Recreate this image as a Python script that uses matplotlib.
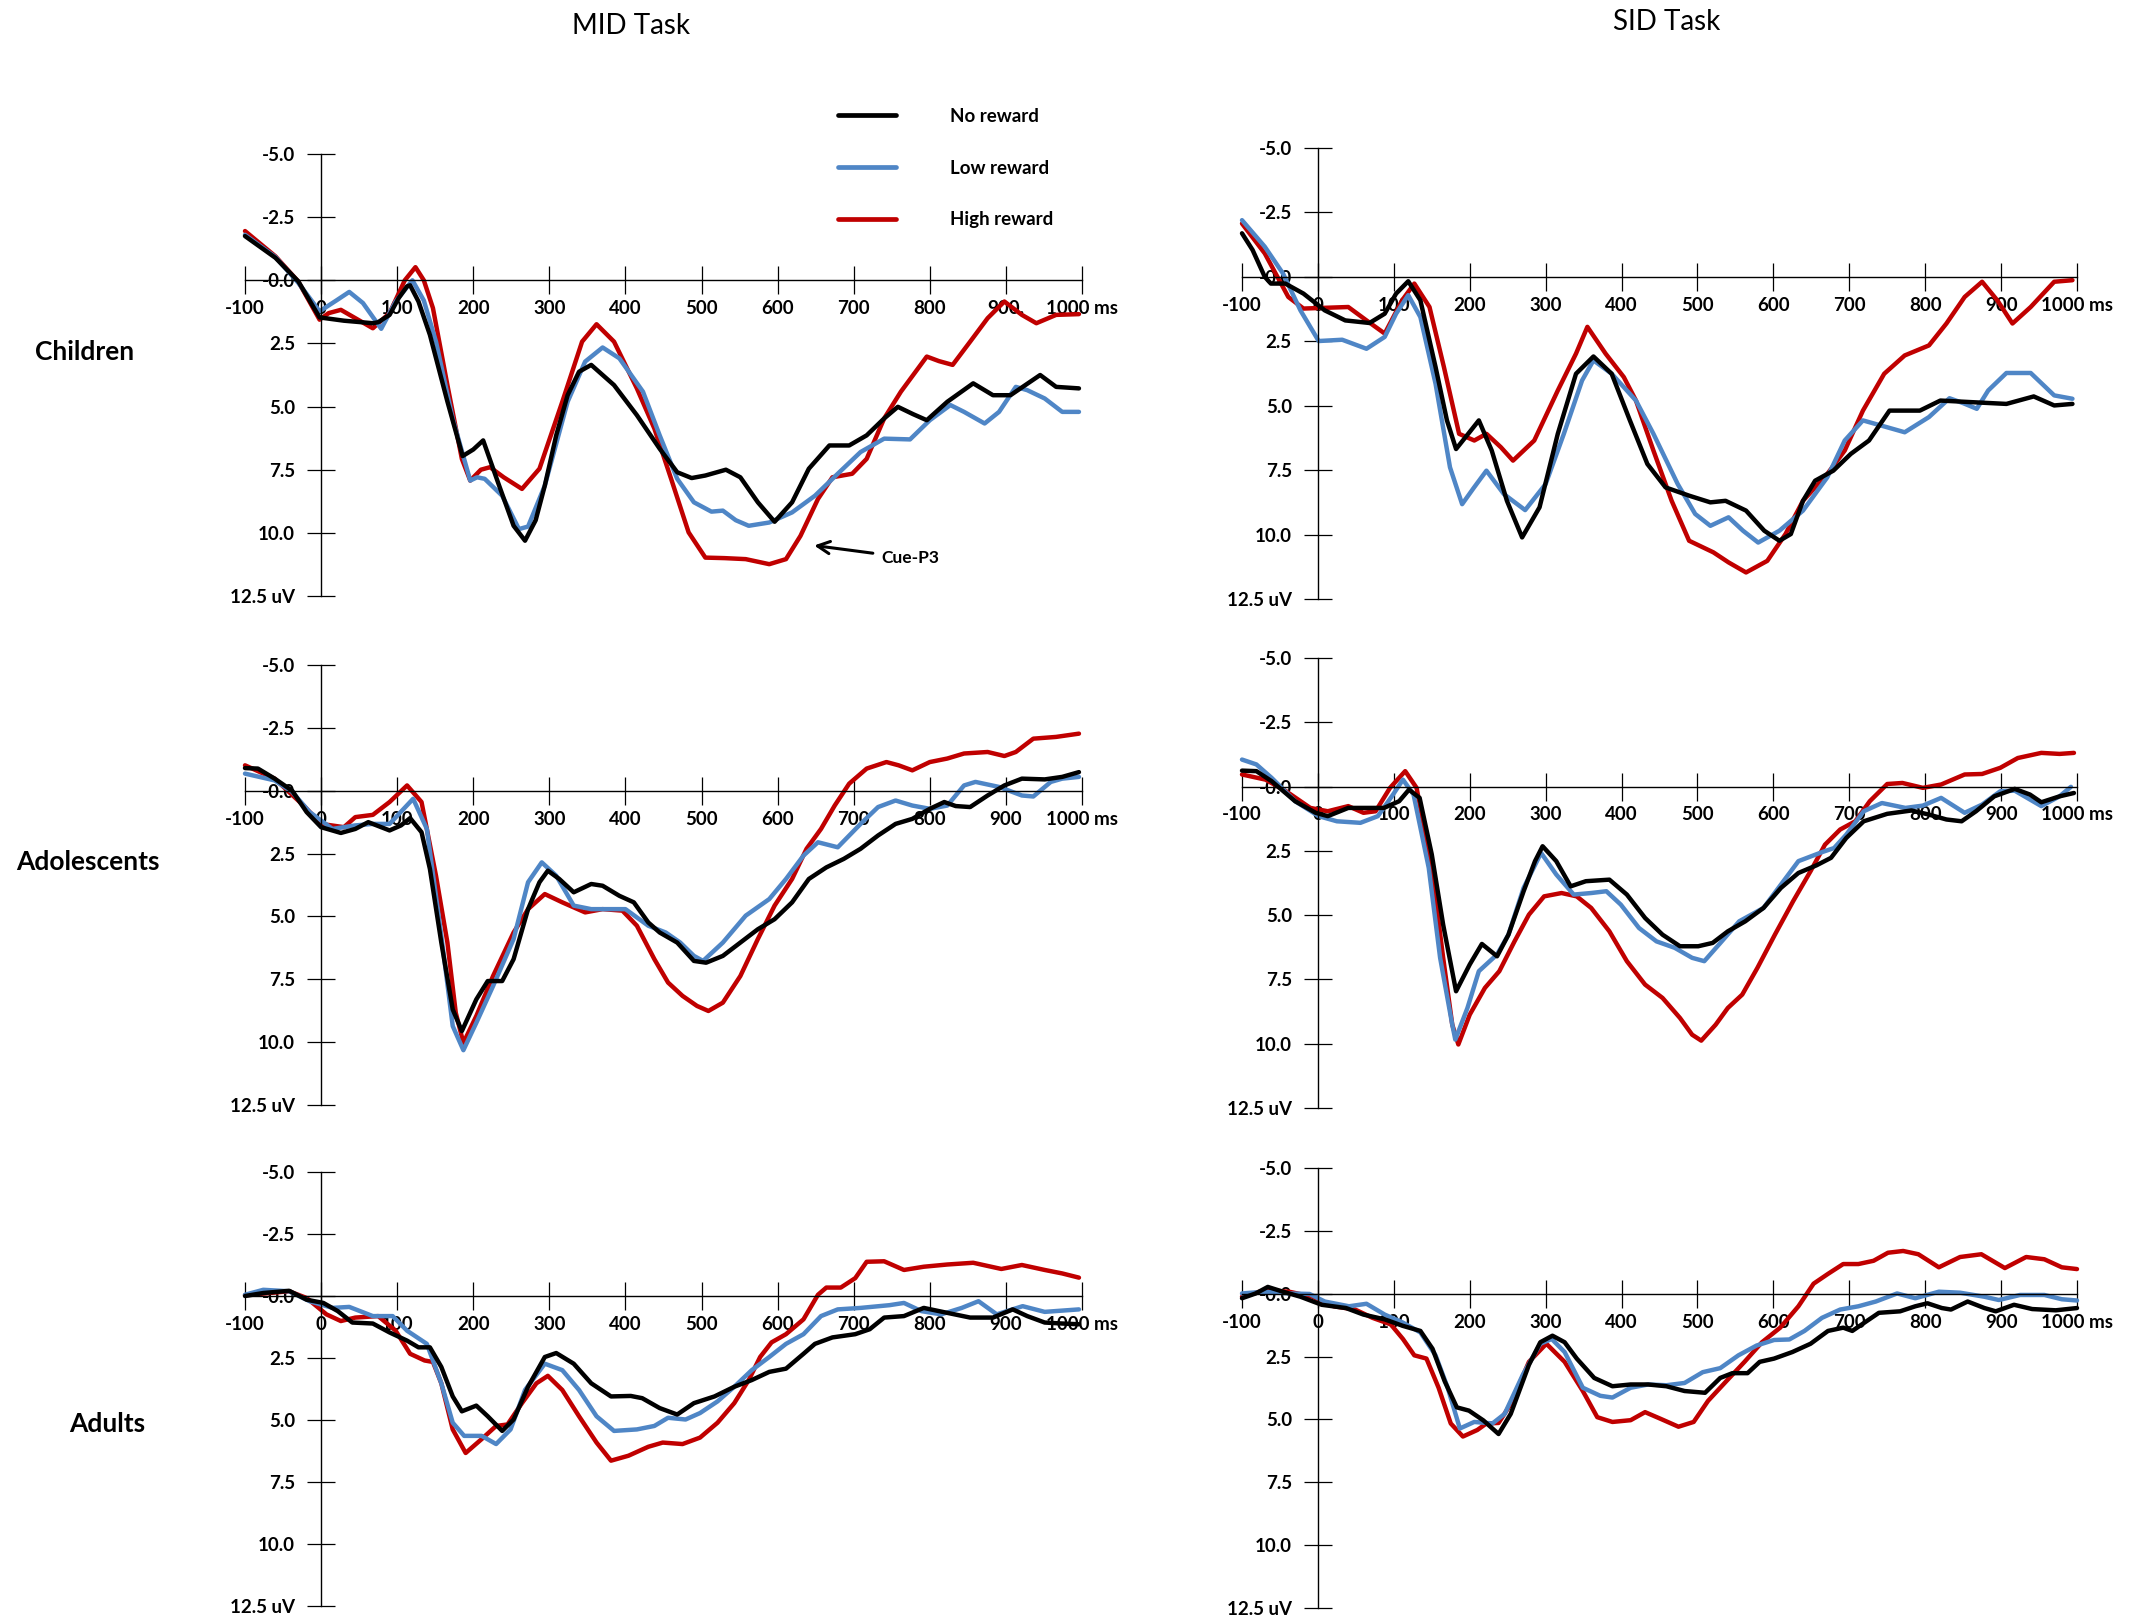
import matplotlib
matplotlib.use('Agg')
import matplotlib.pyplot as plt

plt.rcParams['font.family'] = ['Lato', 'DejaVu Sans']

# ---------------- data (time in ms, amplitude in uV; positive plotted downward) ----------------
CONDITIONS = ['No reward', 'Low reward', 'High reward']
COLORS = ['#000000', '#4F86C6', '#C00000']
ROW_LABELS = ['Children', 'Adolescents', 'Adults']
TASK_TITLES = ['MID Task', 'SID Task']
XTICKS = [-100, 0, 100, 200, 300, 400, 500, 600, 700, 800, 900, 1000]
XLABELS = ['-100', '0', '100', '200', '300', '400', '500', '600', '700', '800', '900', '1000 ms']
XLABELS_MID_CHILD = ['-100', '0', '100', '200', '300', '400', '500', '600', '700', '800', '900.', '1000 ms']
YTICKS = [-5.0, -2.5, 0.0, 2.5, 5.0, 7.5, 10.0, 12.5]
YLABELS = ['-5.0', '-2.5', '-0.0', '2.5', '5.0', '7.5', '10.0', '12.5 uV']

MID_CH_NO = [(-100,-1.75),(-60,-0.89),(-30,0.04),(-2,1.47),(30,1.60),(68,1.70),(75,1.66),(90,1.37),(102,0.70),(113,0.24),(117,0.20),(128,0.84),(143,2.16),(166,4.80),(186,6.96),(200,6.70),(213,6.34),(234,8.13),(253,9.72),(268,10.31),(282,9.50),(294,8.13),(309,6.14),(324,4.55),(339,3.62),(355,3.35),(385,4.15),(415,5.34),(445,6.67),(468,7.60),(487,7.83),(505,7.73),(532,7.50),(551,7.80),(574,8.79),(596,9.56),(619,8.79),(641,7.46),(668,6.54),(694,6.54),(717,6.14),(740,5.47),(758,5.01),(778,5.30),(796,5.54),(823,4.81),(857,4.08),(883,4.55),(906,4.55),(945,3.75),(966,4.22),(996,4.28)]
MID_CH_LOW = [(-100,-1.80),(-60,-0.92),(-30,0.10),(-2,1.23),(20,0.80),(37,0.46),(55,0.90),(79,1.92),(98,0.84),(120,0.00),(135,0.80),(151,2.43),(173,5.48),(196,7.93),(205,7.80),(215,7.86),(238,8.53),(260,9.85),(272,9.75),(294,8.13),(324,4.81),(347,3.22),(370,2.66),(392,3.09),(423,4.41),(445,6.14),(468,7.86),(490,8.79),(513,9.16),(528,9.12),(545,9.50),(562,9.72),(589,9.59),(619,9.19),(649,8.53),(679,7.66),(709,6.80),(740,6.27),(774,6.30),(800,5.54),(827,4.94),(845,5.21),(872,5.67),(891,5.21),(913,4.22),(928,4.35),(951,4.68),(974,5.21),(996,5.21)]
MID_CH_HIGH = [(-100,-1.95),(-60,-0.95),(-30,0.05),(-2,1.56),(10,1.30),(26,1.17),(45,1.50),(68,1.90),(90,1.30),(110,0.00),(124,-0.52),(135,0.00),(147,1.10),(166,4.15),(185,7.07),(196,7.93),(210,7.50),(222,7.40),(240,7.80),(264,8.26),(287,7.46),(317,4.81),(343,2.43),(362,1.74),(385,2.43),(415,4.28),(438,5.87),(460,7.86),(483,9.98),(505,10.98),(530,11.00),(558,11.04),(589,11.24),(611,11.04),(630,10.12),(653,8.66),(672,7.80),(698,7.66),(717,7.07),(740,5.47),(762,4.41),(796,3.02),(812,3.20),(830,3.35),(853,2.43),(876,1.50),(898,0.84),(921,1.37),(940,1.70),(966,1.37),(996,1.34)]

SID_CH_NO = [(-100,-1.69),(-86,-1.04),(-70,0.00),(-62,0.26),(-43,0.26),(-19,0.65),(9,1.30),(36,1.69),(68,1.79),(88,1.43),(103,0.65),(119,0.17),(135,0.91),(155,3.50),(170,5.57),(182,6.68),(198,6.09),(212,5.57),(229,6.74),(249,8.69),(269,10.11),(292,8.94),(316,6.09),(340,3.76),(363,3.09),(387,3.76),(411,5.57),(434,7.26),(458,8.17),(489,8.49),(517,8.75),(537,8.69),(564,9.07),(588,9.85),(608,10.24),(623,9.98),(639,8.69),(655,7.91),(679,7.52),(702,6.87),(726,6.35),(753,5.19),(793,5.19),(820,4.80),(860,4.86),(907,4.93),(943,4.64),(970,4.99),(994,4.93)]
SID_CH_LOW = [(-100,-2.20),(-70,-1.17),(-46,-0.13),(-23,1.30),(1,2.49),(32,2.44),(64,2.79),(88,2.33),(103,1.43),(119,0.71),(135,1.56),(155,4.15),(174,7.39),(190,8.82),(205,8.20),(222,7.52),(245,8.43),(273,9.05),(300,8.04),(324,6.09),(348,4.02),(363,3.24),(387,3.76),(419,4.80),(442,6.09),(474,8.04),(497,9.20),(517,9.66),(541,9.33),(560,9.85),(580,10.31),(608,9.85),(639,9.07),(671,7.78),(694,6.35),(718,5.57),(742,5.77),(773,6.03),(805,5.44),(832,4.71),(850,4.90),(868,5.12),(883,4.41),(907,3.73),(939,3.73),(970,4.60),(994,4.73)]
SID_CH_HIGH = [(-100,-2.07),(-70,-0.91),(-39,0.78),(-19,1.23),(40,1.17),(64,1.69),(88,2.20),(111,0.91),(127,0.26),(147,1.17),(166,3.50),(186,6.09),(206,6.35),(222,6.09),(241,6.61),(257,7.13),(285,6.35),(316,4.41),(340,2.98),(355,1.94),(379,2.98),(403,3.89),(419,4.80),(442,6.74),(466,8.69),(489,10.24),(521,10.69),(541,11.08),(564,11.47),(592,11.02),(616,9.98),(639,8.69),(671,7.65),(694,6.74),(718,5.19),(746,3.76),(773,3.05),(805,2.66),(828,1.81),(852,0.78),(875,0.19),(895,0.91),(915,1.81),(939,1.17),(970,0.19),(994,0.13)]

MID_AD_NO = [(-100,-0.90),(-83,-0.88),(-61,-0.48),(-38,0.00),(-19,0.85),(0,1.45),(26,1.68),(45,1.52),(62,1.25),(90,1.58),(105,1.38),(117,1.09),(132,1.65),(143,3.11),(158,6.04),(173,8.70),(185,9.56),(204,8.30),(219,7.57),(238,7.57),(253,6.70),(272,4.71),(287,3.64),(298,3.18),(313,3.51),(332,4.04),(355,3.71),(370,3.78),(392,4.18),(411,4.44),(430,5.24),(445,5.64),(468,6.04),(490,6.77),(506,6.84),(528,6.57),(551,6.04),(574,5.51),(596,5.11),(619,4.44),(641,3.51),(664,3.05),(687,2.71),(709,2.31),(732,1.78),(755,1.32),(777,1.12),(800,0.72),(819,0.45),(834,0.61),(853,0.65),(876,0.19),(898,-0.21),(921,-0.48),(951,-0.45),(974,-0.55),(996,-0.74)]
MID_AD_LOW = [(-100,-0.68),(-61,-0.41),(-38,0.05),(-15,0.85),(15,1.52),(45,1.38),(68,1.32),(90,1.32),(121,0.32),(139,1.52),(158,5.77),(173,9.36),(187,10.32),(204,9.23),(226,7.77),(253,5.90),(272,3.64),(290,2.85),(309,3.38),(332,4.57),(355,4.71),(400,4.71),(430,5.37),(453,5.64),(472,6.04),(490,6.57),(502,6.77),(528,6.04),(558,4.97),(589,4.31),(611,3.51),(634,2.58),(653,2.05),(679,2.25),(709,1.32),(732,0.65),(755,0.39),(777,0.59),(800,0.72),(823,0.59),(845,-0.21),(860,-0.35),(891,-0.15),(921,0.19),(936,0.23),(959,-0.35),(974,-0.48),(996,-0.55)]
MID_AD_HIGH = [(-100,-1.01),(-61,-0.48),(-23,0.59),(0,1.32),(30,1.45),(45,1.05),(68,0.96),(90,0.45),(113,-0.21),(132,0.45),(151,3.38),(166,6.04),(177,8.83),(187,10.03),(204,8.96),(226,7.37),(253,5.64),(272,4.71),(294,4.11),(317,4.44),(347,4.84),(370,4.71),(396,4.77),(415,5.37),(438,6.70),(456,7.63),(475,8.16),(494,8.56),(509,8.76),(528,8.43),(551,7.37),(574,5.90),(596,4.57),(619,3.51),(638,2.31),(657,1.52),(675,0.59),(694,-0.28),(717,-0.88),(743,-1.14),(759,-1.01),(777,-0.81),(800,-1.14),(823,-1.28),(845,-1.48),(876,-1.54),(898,-1.38),(913,-1.54),(936,-2.07),(966,-2.14),(996,-2.27)]

SID_AD_NO = [(-100,-0.62),(-81,-0.60),(-61,-0.21),(-30,0.57),(-3,1.02),(13,1.15),(40,0.83),(60,0.83),(87,0.83),(107,0.57),(120,0.12),(134,0.44),(150,2.64),(165,5.37),(182,7.96),(200,6.92),(216,6.12),(236,6.60),(251,5.76),(271,4.07),(286,2.90),(296,2.32),(314,2.90),(333,3.88),(353,3.68),(384,3.62),(407,4.20),(431,5.11),(454,5.76),(477,6.21),(501,6.21),(520,6.08),(540,5.63),(563,5.24),(587,4.72),(610,3.94),(633,3.36),(657,3.06),(676,2.77),(696,2.00),(719,1.35),(750,1.06),(782,0.93),(805,1.09),(828,1.28),(848,1.35),(867,0.96),(891,0.38),(918,0.09),(938,0.31),(953,0.61),(977,0.38),(996,0.25)]
SID_AD_LOW = [(-100,-1.05),(-81,-0.86),(-61,-0.34),(-30,0.57),(1,1.15),(25,1.35),(56,1.41),(79,1.15),(99,0.31),(112,-0.27),(126,0.31),(146,3.16),(161,6.66),(177,9.26),(181,9.84),(197,8.61),(212,7.18),(236,6.53),(251,5.76),(271,3.94),(294,2.58),(314,3.42),(337,4.20),(360,4.14),(380,4.07),(399,4.59),(423,5.50),(446,6.02),(470,6.27),(493,6.66),(509,6.79),(532,6.02),(555,5.24),(587,4.72),(610,3.81),(633,2.90),(665,2.54),(680,2.39),(696,1.87),(719,0.96),(743,0.64),(774,0.83),(797,0.74),(821,0.44),(852,1.02),(875,0.70),(899,0.18),(918,0.16),(953,0.76),(977,0.38),(992,0.01)]
SID_AD_HIGH = [(-100,-0.47),(-69,-0.27),(-42,0.18),(-10,0.83),(13,0.96),(40,0.76),(60,1.02),(76,0.96),(95,0.05),(115,-0.60),(130,0.05),(150,3.16),(165,6.66),(177,9.26),(185,10.03),(200,8.87),(220,7.83),(239,7.18),(259,6.02),(278,4.98),(298,4.27),(321,4.14),(341,4.27),(360,4.72),(384,5.63),(407,6.79),(431,7.70),(454,8.22),(477,9.00),(493,9.65),(505,9.88),(524,9.26),(540,8.61),(559,8.09),(579,7.05),(602,5.76),(626,4.46),(649,3.29),(668,2.26),(688,1.67),(708,1.35),(727,0.57),(750,-0.10),(770,-0.14),(797,0.05),(821,-0.08),(852,-0.47),(875,-0.49),(899,-0.73),(922,-1.11),(953,-1.31),(977,-1.27),(996,-1.31)]

MID_AL_NO = [(-100,0.00),(-76,-0.12),(-42,-0.21),(-19,0.15),(3,0.28),(22,0.61),(41,1.07),(68,1.11),(90,1.47),(113,1.80),(128,2.07),(143,2.07),(158,2.86),(173,4.05),(185,4.65),(204,4.42),(219,4.85),(238,5.44),(253,4.98),(272,3.66),(294,2.46),(309,2.30),(332,2.73),(355,3.52),(381,4.05),(407,4.03),(422,4.12),(445,4.52),(468,4.78),(490,4.32),(517,4.05),(543,3.66),(566,3.39),(589,3.06),(611,2.93),(634,2.33),(649,1.93),(672,1.67),(702,1.54),(721,1.34),(740,0.87),(766,0.81),(792,0.48),(823,0.68),(853,0.87),(883,0.87),(909,0.54),(928,0.81),(951,1.07),(974,1.11),(996,1.14)]
MID_AL_LOW = [(-100,-0.05),(-76,-0.25),(-42,-0.19),(-15,0.21),(15,0.48),(37,0.44),(68,0.81),(94,0.81),(113,1.40),(139,1.93),(158,3.52),(173,5.11),(188,5.64),(211,5.64),(230,5.97),(249,5.38),(268,3.79),(294,2.73),(317,2.99),(339,3.79),(362,4.85),(385,5.44),(415,5.38),(438,5.24),(456,4.91),(479,4.98),(498,4.72),(521,4.25),(543,3.66),(566,2.99),(589,2.46),(611,1.93),(634,1.54),(657,0.81),(679,0.54),(709,0.48),(747,0.37),(766,0.28),(789,0.61),(815,0.74),(842,0.48),(864,0.21),(888,0.74),(922,0.41),(951,0.64),(996,0.54)]
MID_AL_HIGH = [(-100,-0.03),(-68,-0.12),(-42,-0.19),(-19,0.08),(7,0.74),(26,1.01),(45,0.87),(75,0.81),(98,1.40),(117,2.33),(136,2.60),(147,2.66),(158,3.52),(173,5.38),(190,6.33),(211,5.77),(230,5.24),(245,5.18),(264,4.32),(283,3.52),(298,3.22),(317,3.79),(339,4.85),(362,5.91),(381,6.64),(404,6.44),(430,6.08),(449,5.91),(475,5.97),(498,5.71),(521,5.11),(543,4.32),(562,3.39),(577,2.46),(592,1.87),(611,1.54),(634,0.94),(653,-0.05),(664,-0.34),(683,-0.34),(702,-0.72),(717,-1.38),(740,-1.40),(766,-1.05),(792,-1.18),(823,-1.27),(857,-1.34),(894,-1.09),(921,-1.25),(951,-1.05),(974,-0.91),(996,-0.74)]

SID_AL_NO = [(-100,0.18),(-82,-0.01),(-66,-0.27),(-46,-0.08),(-23,0.12),(5,0.44),(37,0.57),(60,0.83),(88,1.02),(112,1.28),(135,1.48),(151,2.19),(167,3.48),(183,4.52),(199,4.65),(218,5.04),(238,5.58),(254,4.78),(278,2.83),(293,1.93),(309,1.67),(325,1.93),(341,2.58),(364,3.35),(388,3.68),(412,3.61),(435,3.61),(459,3.68),(483,3.87),(510,3.94),(530,3.35),(546,3.16),(566,3.16),(582,2.71),(601,2.58),(625,2.32),(649,1.99),(672,1.48),(692,1.35),(704,1.48),(720,1.15),(739,0.76),(767,0.70),(787,0.50),(803,0.38),(822,0.57),(834,0.63),(856,0.31),(878,0.57),(893,0.70),(917,0.44),(941,0.61),(972,0.66),(1000,0.57)]
SID_AL_LOW = [(-100,-0.01),(-70,-0.08),(-38,-0.01),(-11,0.01),(9,0.31),(41,0.50),(64,0.40),(88,0.83),(112,1.15),(135,1.54),(155,2.45),(171,3.74),(187,5.36),(206,5.10),(230,5.16),(246,4.78),(270,3.22),(293,1.99),(308,1.80),(325,2.32),(349,3.74),(372,4.06),(388,4.13),(412,3.74),(435,3.61),(459,3.64),(483,3.55),(507,3.12),(530,2.96),(554,2.45),(578,2.06),(601,1.84),(621,1.82),(641,1.48),(664,0.96),(688,0.63),(712,0.50),(735,0.31),(763,-0.01),(787,0.18),(818,-0.08),(846,-0.04),(878,0.12),(897,0.25),(925,0.05),(957,0.05),(980,0.22),(1000,0.27)]
SID_AL_HIGH = [(-100,0.12),(-70,-0.14),(-38,-0.08),(-7,0.12),(21,0.50),(49,0.63),(72,0.96),(96,1.22),(112,1.80),(127,2.45),(143,2.58),(159,3.74),(175,5.16),(191,5.68),(210,5.42),(222,5.16),(238,5.14),(254,4.39),(278,2.71),(301,1.99),(325,2.71),(349,3.87),(368,4.91),(388,5.10),(412,5.03),(431,4.71),(451,4.97),(475,5.29),(495,5.10),(514,4.26),(538,3.48),(562,2.71),(585,1.93),(609,1.35),(633,0.50),(653,-0.40),(672,-0.79),(692,-1.18),(712,-1.18),(732,-1.31),(751,-1.63),(771,-1.70),(791,-1.57),(818,-1.05),(846,-1.46),(874,-1.57),(905,-1.02),(933,-1.46),(957,-1.37),(980,-1.05),(1000,-0.98)]

CUE_P3_LABEL = 'Cue-P3'
CUE_P3_POINT = (648, 10.5)

# ---------------- layout ----------------
W, H = 2141, 1623
fig = plt.figure(figsize=(W / 100, H / 100), dpi=100)

# panel boxes in pixels: left(-100 ms), right(1000 ms), top(-5 uV), bottom(12.5 uV)
BOXES = [
    [(245, 1082, 154, 596), (1242, 2077, 148, 599)],
    [(245, 1082, 665, 1105), (1242, 2077, 658, 1108)],
    [(245, 1082, 1172, 1606), (1242, 2077, 1168, 1608)],
]
PANEL_DATA = [
    [(MID_CH_NO, MID_CH_LOW, MID_CH_HIGH), (SID_CH_NO, SID_CH_LOW, SID_CH_HIGH)],
    [(MID_AD_NO, MID_AD_LOW, MID_AD_HIGH), (SID_AD_NO, SID_AD_LOW, SID_AD_HIGH)],
    [(MID_AL_NO, MID_AL_LOW, MID_AL_HIGH), (SID_AL_NO, SID_AL_LOW, SID_AL_HIGH)],
]

TICKFONT = dict(fontsize=13.5, fontweight='bold')
axes = {}
for r in range(3):
    for c in range(2):
        L, R, T, B = BOXES[r][c]
        ax = fig.add_axes([L / W, 1 - B / H, (R - L) / W, (B - T) / H])
        ax.set_xlim(-100, 1000)
        ax.set_ylim(12.5, -5)
        ax.patch.set_visible(False)
        for s in ['top', 'right']:
            ax.spines[s].set_visible(False)
        ax.spines['left'].set_position(('data', 0))
        ax.spines['bottom'].set_position(('data', 0))
        for s in ['left', 'bottom']:
            ax.spines[s].set_linewidth(1.0)
            ax.spines[s].set_color('black')
        ax.set_xticks(XTICKS)
        ax.set_xticklabels(XLABELS_MID_CHILD if (r == 0 and c == 0) else XLABELS, **TICKFONT)
        ax.set_yticks(YTICKS)
        ax.set_yticklabels(YLABELS, **TICKFONT)
        ax.tick_params(axis='x', direction='inout', length=19.5, width=0.9, pad=4.5)
        ax.tick_params(axis='y', direction='inout', length=19.5, width=0.9, pad=9.0)
        handles = []
        series = PANEL_DATA[r][c]
        for idx in [2, 1, 0]:
            pts = series[idx]
            t = [p[0] for p in pts]
            v = [p[1] for p in pts]
            ln, = ax.plot(t, v, color=COLORS[idx], lw=3.2, solid_joinstyle='round',
                          solid_capstyle='round', clip_on=False, label=CONDITIONS[idx])
            handles.append(ln)
        axes[(r, c)] = (ax, handles[::-1])

# Cue-P3 annotation
ax0 = axes[(0, 0)][0]
ax0.annotate(CUE_P3_LABEL, xy=CUE_P3_POINT, xytext=(736, 11.0), fontsize=12.5, fontweight='bold',
             va='center', ha='left',
             arrowprops=dict(arrowstyle='->', color='black', lw=2.2, mutation_scale=22,
                             shrinkA=4, shrinkB=0))

# legend
h = axes[(0, 0)][1]
leg = fig.legend(h, CONDITIONS, loc='upper left', bbox_to_anchor=(838 / W, 1 - 108 / H),
                 frameon=False, fontsize=13.5, handlelength=3.1, handletextpad=2.9,
                 labelspacing=1.85, borderpad=0, borderaxespad=0)
for t in leg.get_texts():
    t.set_fontweight('bold')
for lh in leg.get_lines():
    lh.set_linewidth(3.4)

# titles and row labels
fig.text(631 / W, 1 - 26 / H, TASK_TITLES[0], ha='center', va='center', fontsize=20)
fig.text(1667 / W, 1 - 22 / H, TASK_TITLES[1], ha='center', va='center', fontsize=20)
ROW_POS = [(85, 352), (88, 862), (107, 1424)]
for lab, (x, y) in zip(ROW_LABELS, ROW_POS):
    fig.text(x / W, 1 - y / H, lab, ha='center', va='center', fontsize=19, fontweight='bold')

fig.savefig('out.png', dpi=100)
